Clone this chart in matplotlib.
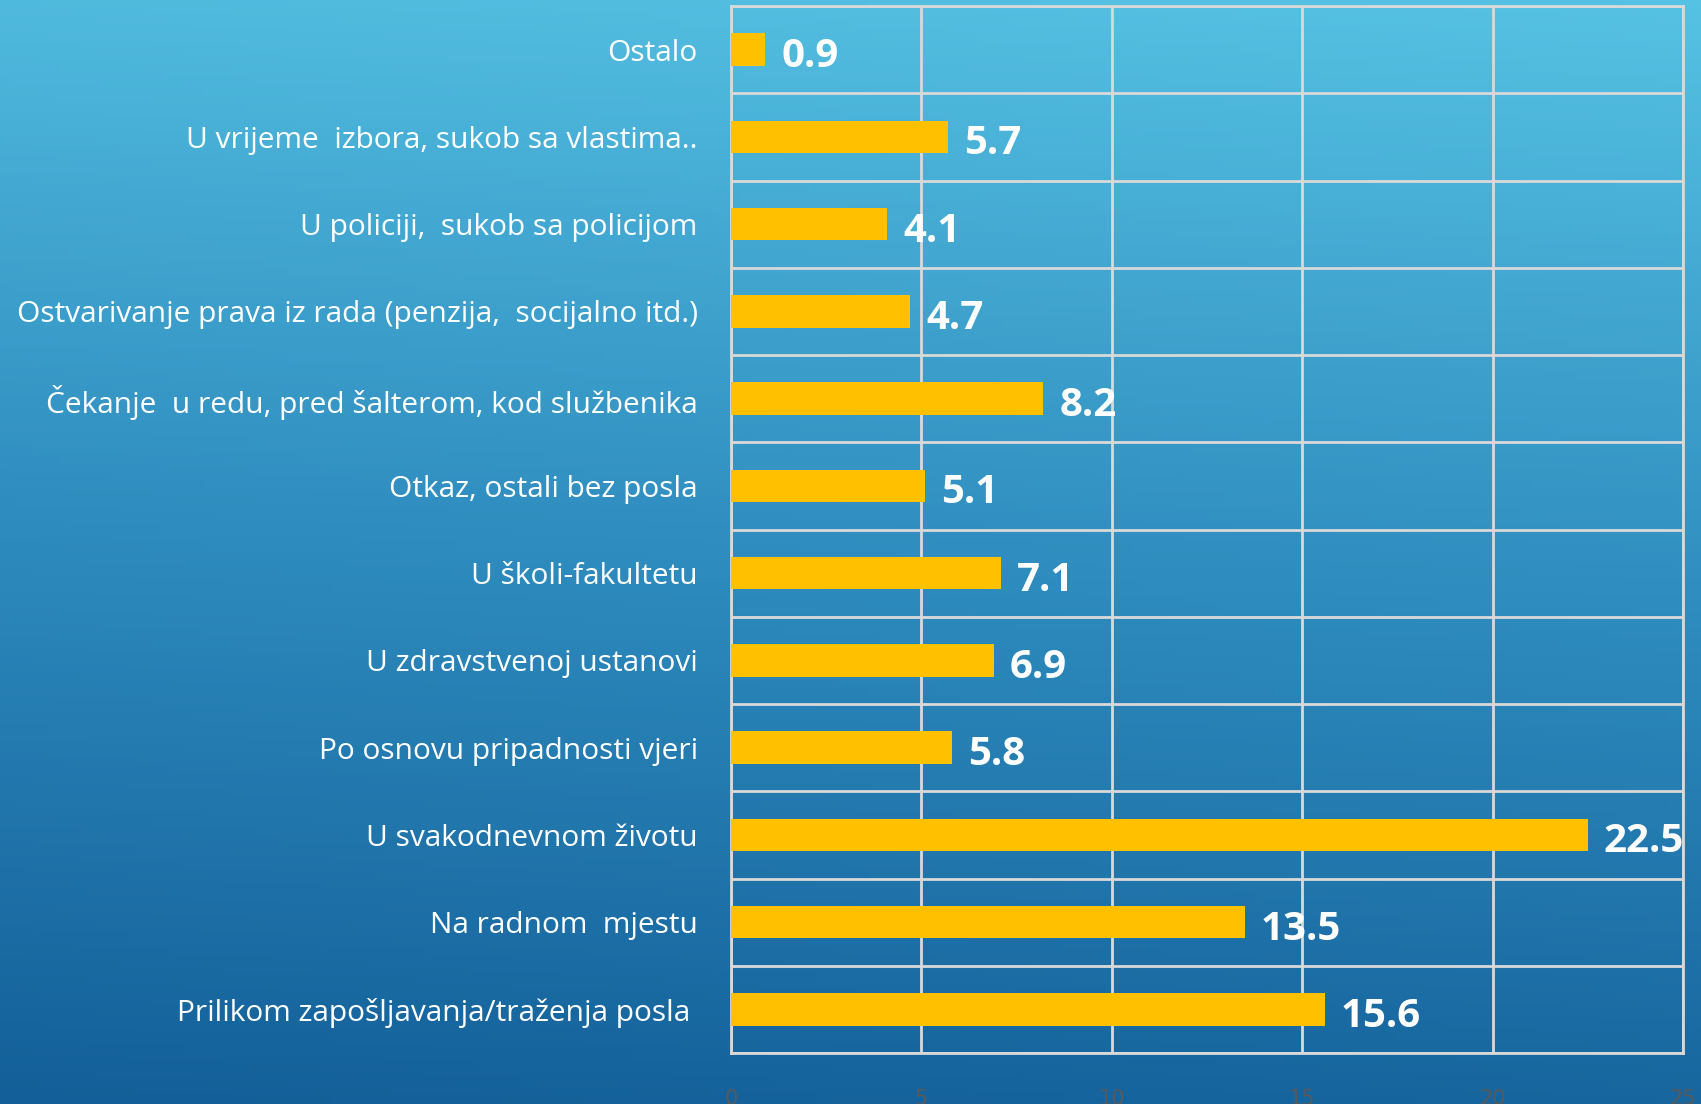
import numpy as np
import matplotlib
matplotlib.use("Agg")
import matplotlib.pyplot as plt
from matplotlib.colors import LinearSegmentedColormap

categories = [
    "Ostalo",
    "U vrijeme  izbora, sukob sa vlastima..",
    "U policiji,  sukob sa policijom",
    "Ostvarivanje prava iz rada (penzija,  socijalno itd.)",
    "Čekanje  u redu, pred šalterom, kod službenika",
    "Otkaz, ostali bez posla",
    "U školi-fakultetu",
    "U zdravstvenoj ustanovi",
    "Po osnovu pripadnosti vjeri",
    "U svakodnevnom životu",
    "Na radnom  mjestu",
    "Prilikom zapošljavanja/traženja posla ",
]
values = [0.9, 5.7, 4.1, 4.7, 8.2, 5.1, 7.1, 6.9, 5.8, 22.5, 13.5, 15.6]
x_ticks = [0, 5, 10, 15, 20, 25]

plt.rcParams["font.family"] = ["Open Sans", "DejaVu Sans"]

W, H = 1701, 1104
fig = plt.figure(figsize=(W / 100, H / 100), dpi=100)

# background gradient (light blue top -> dark blue bottom, slightly diagonal)
bg = fig.add_axes([0, 0, 1, 1], zorder=0)
bg.axis("off")
yy, xx = np.mgrid[0:1:200j, 0:1:200j]
t = np.clip(yy * 0.92 + (1 - xx) * 0.08, 0, 1)
cmap = LinearSegmentedColormap.from_list("bg", ["#56c2e3", "#2f8dbf", "#135f99"])
bg.imshow(t, cmap=cmap, aspect="auto", extent=[0, 1, 0, 1], origin="upper")

ax = fig.add_axes([731 / W, 1 - 1053 / H, (1683 - 731) / W, (1053 - 6) / H], zorder=1)
ax.patch.set_alpha(0)

n = len(categories)
y = np.arange(n)
ax.barh(y, values, height=0.37, color="#ffc000", zorder=3)
for yi, v in zip(y, values):
    ax.text(v + 0.42, yi + 0.08, f"{v:.1f}", va="center", ha="left",
            color="white", fontsize=29, fontweight="bold", zorder=4,
            clip_on=False)

ax.set_xlim(0, 25)
ax.set_ylim(n - 0.5, -0.5)
ax.set_xticks(x_ticks)
ax.set_xticklabels([str(v) for v in x_ticks], color="#595959", fontsize=15,
                   family=["Liberation Sans Narrow", "DejaVu Sans"])
ax.tick_params(axis="x", length=0, pad=26)
ax.set_yticks(y)
ax.set_yticklabels(categories, color="white", fontsize=21.5)
ax.tick_params(axis="y", length=0, pad=24)
ax.set_yticks(np.arange(-0.5, n, 1), minor=True)
ax.tick_params(axis="y", which="minor", length=0)

ax.grid(True, axis="x", color="#d9d9d9", linewidth=2, zorder=1)
ax.grid(True, axis="y", which="minor", color="#d9d9d9", linewidth=2, zorder=1)
for s in ax.spines.values():
    s.set_color("#d9d9d9")
    s.set_linewidth(2)

fig.savefig("out.png", dpi=100)
